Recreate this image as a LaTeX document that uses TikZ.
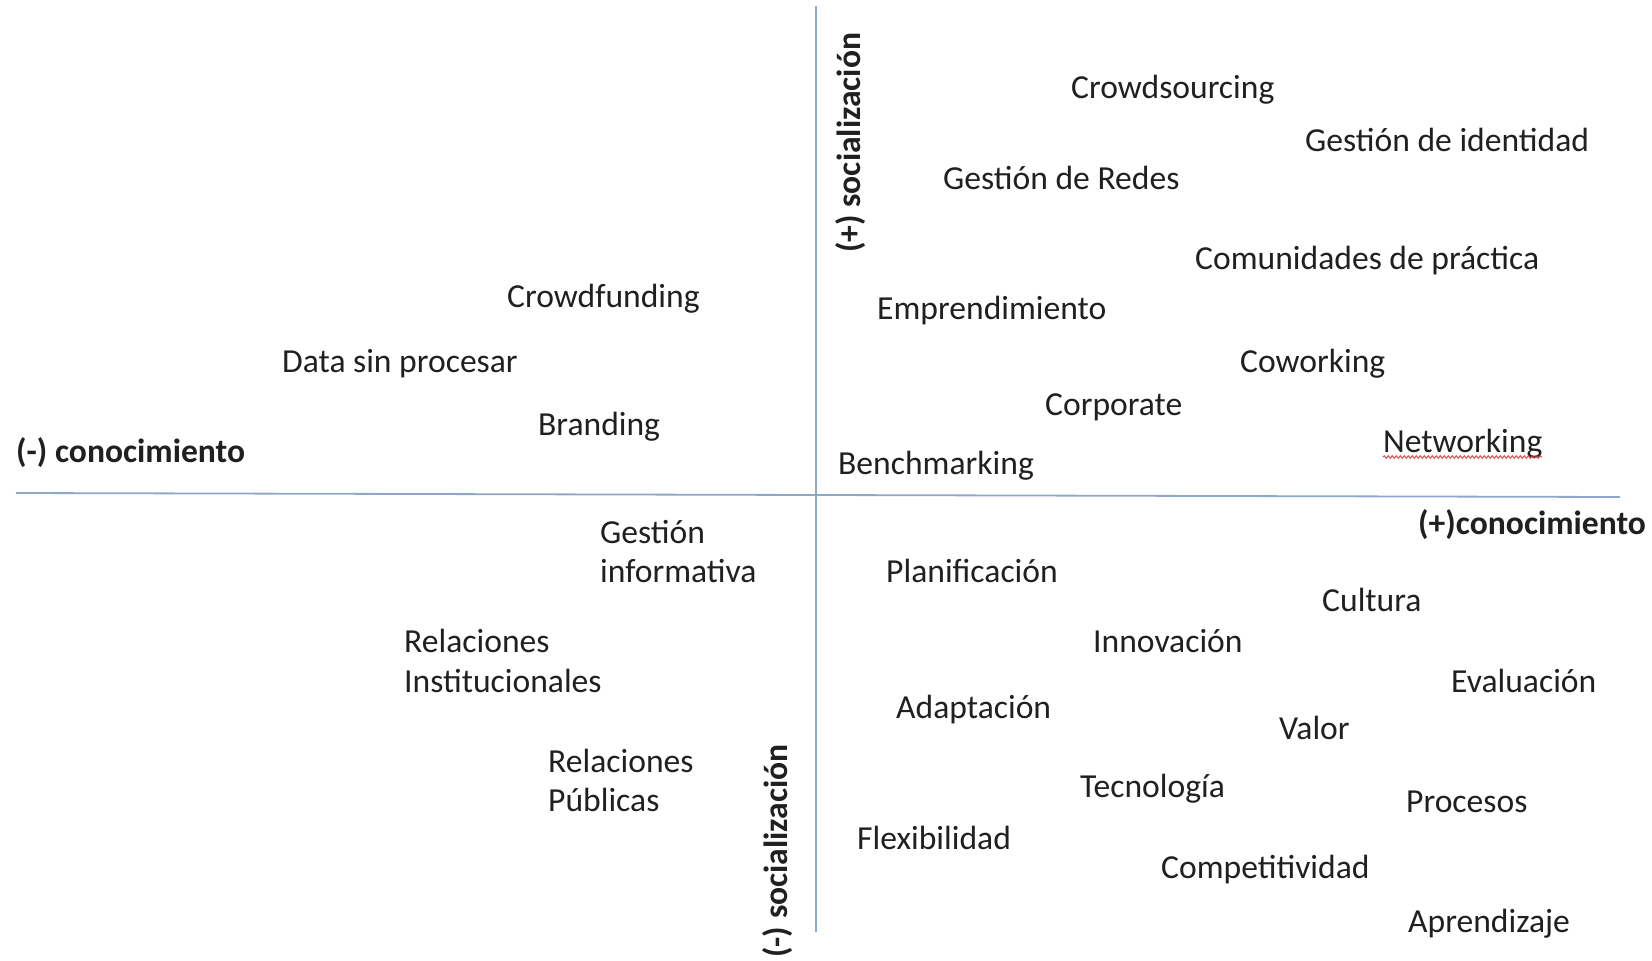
\documentclass[tikz,border=0pt]{standalone}
\usepackage{fontspec}
\setmainfont{Carlito}
\usetikzlibrary{decorations.pathmorphing}
\definecolor{axisblue}{RGB}{142,168,200}
\definecolor{ink}{RGB}{32,32,32}
\definecolor{spellred}{RGB}{220,60,60}
\begin{document}
\begin{tikzpicture}[x=1pt,y=-1pt,
  term/.style={anchor=base west, inner sep=0pt, text=ink, font=\fontsize{33.6}{39}\selectfont},
  axislabel/.style={term, font=\fontsize{33.6}{39}\selectfont\bfseries},
  axisline/.style={draw=axisblue, line width=1.8pt}]
\useasboundingbox[fill=white] (0,0) rectangle (1652,961);

% axes
\coordinate (xl) at (16,493);
\coordinate (xr) at (1620,497);
\coordinate (yt) at (816,6);
\coordinate (yb) at (816,932);
\draw[axisline] (xl) -- (xr);
\draw[axisline] (yt) -- (yb);

% axis labels
\node[axislabel] (kminus) at (16,462) {(-) conocimiento};
\node[axislabel] (kplus) at (1418,534) {(+)conocimiento};
\node[axislabel, rotate=90] (splus) at (860,253) {(+) socialización};
\node[axislabel, rotate=90] (sminus) at (787,958) {(-) socialización};

% upper right quadrant
\node[term] (crowdsourcing) at (1071,98) {Crowdsourcing};
\node[term] (identidad) at (1305,151) {Gestión de identidad};
\node[term] (redes) at (943,189) {Gestión de Redes};
\node[term] (comunidades) at (1195,269) {Comunidades de práctica};
\node[term] (emprendimiento) at (877,319) {Emprendimiento};
\node[term] (coworking) at (1240,372) {Coworking};
\node[term] (corporate) at (1045,415) {Corporate};
\node[term] (networking) at (1383,452) {Networking};
\node[term] (benchmarking) at (838,474) {Benchmarking};
\draw[spellred, line width=0.9pt, decorate,
      decoration={snake, amplitude=1.3pt, segment length=4pt}]
  ([yshift=-5pt]networking.base west) -- ([yshift=-5pt]networking.base east);

% upper left quadrant
\node[term] (crowdfunding) at (507,307) {Crowdfunding};
\node[term] (data) at (282,372) {Data sin procesar};
\node[term] (branding) at (538,435) {Branding};

% lower left quadrant
\node[term] (gestinfA) at (600,543) {Gestión};
\node[term] (gestinfB) at (600,582) {informativa};
\node[term] (relinstA) at (404,652) {Relaciones};
\node[term] (relinstB) at (404,692) {Institucionales};
\node[term] (relpubA) at (548,772) {Relaciones};
\node[term] (relpubB) at (548,811) {Públicas};

% lower right quadrant
\node[term] (planificacion) at (886,582) {Planificación};
\node[term] (cultura) at (1322,611) {Cultura};
\node[term] (innovacion) at (1093,652) {Innovación};
\node[term] (evaluacion) at (1451,692) {Evaluación};
\node[term] (adaptacion) at (896,718) {Adaptación};
\node[term] (valor) at (1279,739) {Valor};
\node[term] (tecnologia) at (1080,797) {Tecnología};
\node[term] (procesos) at (1406,812) {Procesos};
\node[term] (flexibilidad) at (857,849) {Flexibilidad};
\node[term] (competitividad) at (1161,878) {Competitividad};
\node[term] (aprendizaje) at (1408,932) {Aprendizaje};
\end{tikzpicture}
\end{document}
